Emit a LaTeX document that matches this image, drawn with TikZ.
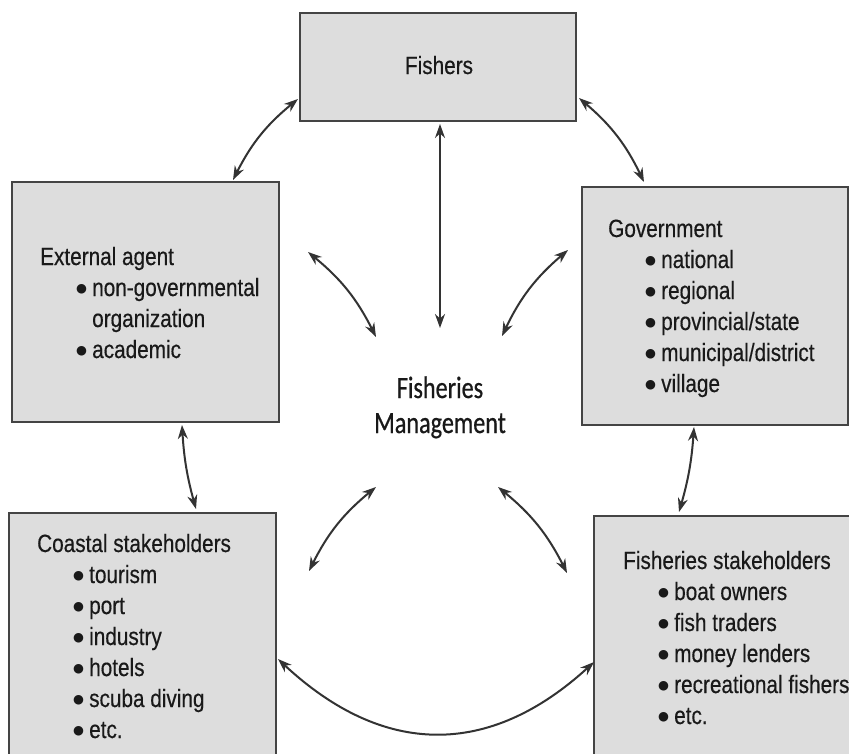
\documentclass[tikz,border=0pt]{standalone}
\usepackage{fontspec}
\setmainfont{Liberation Sans}[FakeStretch=0.83,FakeBold=0.4]
\newfontfamily\fmfont{Carlito}[FakeStretch=0.78,FakeBold=0.6]
\newfontfamily\symfont{DejaVu Sans}
\usetikzlibrary{arrows.meta,calc}
\definecolor{boxfill}{HTML}{DDDDDD}
\definecolor{boxline}{HTML}{444444}
\definecolor{arrowcol}{HTML}{333333}
\newcommand\bxfont{\fontsize{25}{31}\selectfont}
\newcommand\bul{\makebox[16pt][l]{\raisebox{3.5pt}{\symfont\fontsize{12.5}{13}\selectfont ●}}}
\newcommand\nobul{\makebox[16pt][l]{}}
\tikzset{
  box/.style={draw=boxline, fill=boxfill, line width=2pt, rectangle, inner sep=0pt},
  lbl/.style={anchor=base west, inner sep=0pt, font=\bxfont, text=black!90},
  fmlbl/.style={anchor=base, inner sep=0pt, font=\fmfont\fontsize{31}{35}\selectfont, text=black!90},
  link/.style={draw=arrowcol, line width=2pt, {Stealth[length=14pt,width=10pt]}-{Stealth[length=14pt,width=10pt]}}
}
\begin{document}
\begin{tikzpicture}[x=1pt,y=-1pt]
\clip (0,0) rectangle (849,753);
\fill[white] (0,0) rectangle (849,753);
% boxes
\node[box, minimum width=276, minimum height=108] (fishers) at (438,67) {};
\node[box, minimum width=267, minimum height=240] (external) at (145.5,302) {};
\node[box, minimum width=266, minimum height=238] (government) at (715,306) {};
\node[box, minimum width=267, minimum height=287] (coastal) at (142.5,656.5) {};
\node[box, minimum width=306, minimum height=284] (fstake) at (747,658) {};
% texts
\node[lbl, anchor=base] (fishers-t) at (439,74) {Fishers};
\node[lbl] (ext-t) at (40,265) {External agent};
\node[lbl] (ext-1) at (76,296) {\bul non-governmental};
\node[lbl] (ext-2) at (76,327) {\nobul organization};
\node[lbl] (ext-3) at (76,358) {\bul academic};
\node[lbl] (gov-t) at (608,237) {Government};
\foreach \t [count=\i] in {national,regional,provincial/state,municipal/district,village}
  \node[lbl, name=gov-\i] at (645,237+31*\i) {\bul \t};
\node[lbl] (coast-t) at (37,552) {Coastal stakeholders};
\foreach \t [count=\i] in {tourism,port,industry,hotels,scuba diving,etc.}
  \node[lbl, name=coast-\i] at (73,552+31*\i) {\bul \t};
\node[lbl] (fs-t) at (623,569) {Fisheries stakeholders};
\foreach \t [count=\i] in {boat owners,fish traders,money lenders,recreational fishers,etc.}
  \node[lbl, name=fs-\i] at (658,569+31*\i) {\bul \t};
\node[fmlbl] (fm1) at (440,398) {Fisheries};
\node[fmlbl] (fm2) at (440,433) {Management};
% arrow end points
\coordinate (fi-w) at (298,99);
\coordinate (ex-n) at (233,180);
\coordinate (fi-e) at (579,98);
\coordinate (go-n) at (644,182);
\coordinate (fi-s) at (440,124);
\coordinate (fm-n) at (440,328);
\coordinate (ex-s) at (182,425);
\coordinate (co-n) at (196,509);
\coordinate (go-s) at (694,427);
\coordinate (fs-n) at (679,512);
\coordinate (ex-e) at (308,252);
\coordinate (fm-nw) at (376,337);
\coordinate (go-w) at (568,250);
\coordinate (fm-ne) at (502,336);
\coordinate (fm-sw) at (376,487);
\coordinate (co-e) at (309,571);
\coordinate (fm-se) at (498,487);
\coordinate (fs-w) at (567,573);
\coordinate (co-se) at (278,659);
\coordinate (fs-sw) at (594,662);
% connectors
\draw[link] (fi-w) to[bend right=12] (ex-n);
\draw[link] (fi-e) to[bend left=12] (go-n);
\draw[link] (fi-s) -- (fm-n);
\draw[link] (ex-s) to[bend right=6] (co-n);
\draw[link] (go-s) to[bend left=6] (fs-n);
\draw[link] (ex-e) to[bend left=12] (fm-nw);
\draw[link] (go-w) to[bend right=12] (fm-ne);
\draw[link] (fm-sw) to[bend right=12] (co-e);
\draw[link] (fm-se) to[bend left=12] (fs-w);
\draw[link] (co-se) .. controls (383,757) and (489,758) .. (fs-sw);
\end{tikzpicture}
\end{document}
